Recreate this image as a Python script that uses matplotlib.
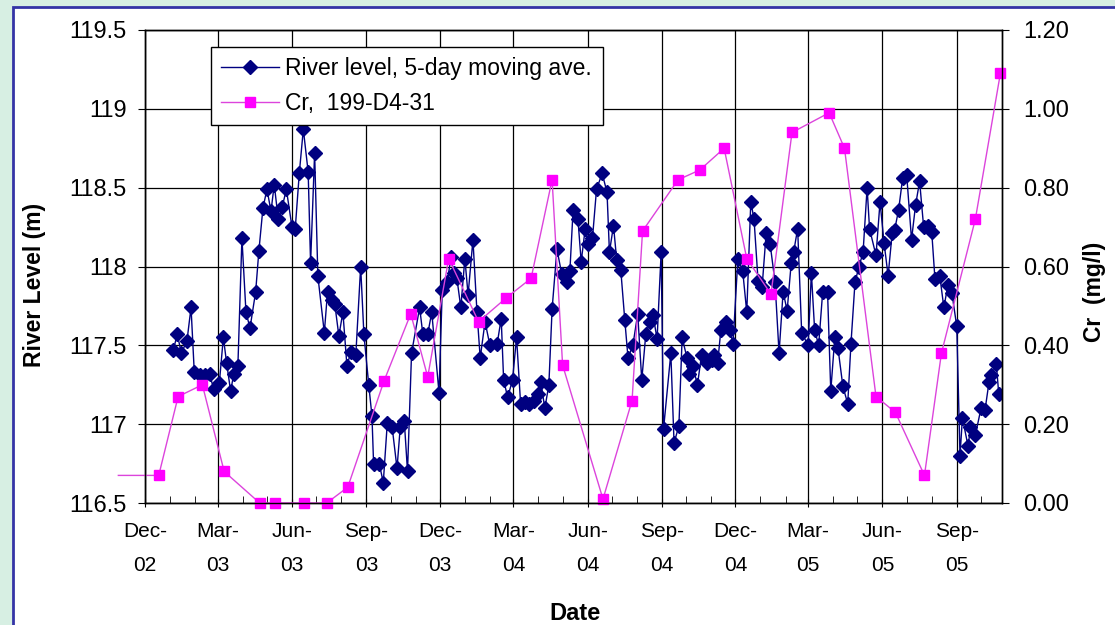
import datetime as dt
import numpy as np
import matplotlib
matplotlib.use('Agg')
import matplotlib.pyplot as plt
import matplotlib.dates as mdates
from matplotlib.patches import Rectangle
from matplotlib.lines import Line2D
from matplotlib.ticker import FormatStrFormatter, FuncFormatter

# river level: days after 1 Dec 2002, level in m
start = dt.datetime(2002, 12, 1)
level_day = [35, 40, 45, 52, 57, 61, 68, 74, 80, 85, 92, 97, 101, 106, 110, 115,
             120, 125, 130, 137, 141, 146, 151, 156, 160, 165, 170, 175, 182, 186,
             191, 196, 202, 205, 210, 214, 222, 226, 231, 235, 240, 245, 250, 255,
             261, 267, 271, 277, 281, 283, 290, 295, 300, 306, 312, 316, 321, 325,
             330, 340, 344, 350, 355, 364, 368, 374, 379, 382, 386, 391, 396, 400,
             406, 411, 415, 421, 427, 436, 441, 444, 449, 455, 460, 465, 470, 476,
             481, 486, 490, 495, 500, 504, 510, 516, 522, 526, 530, 536, 540, 545,
             549, 554, 559, 566, 572, 575, 580, 584, 589, 594, 598, 604, 610, 615,
             620, 625, 629, 634, 639, 642, 651, 655, 661, 665, 671, 673, 678, 684,
             689, 696, 702, 705, 709, 713, 719, 724, 728, 734, 740, 745, 750, 754,
             759, 764, 769, 774, 780, 785, 790, 795, 800, 803, 808, 813, 821, 825,
             829, 834, 839, 845, 849, 854, 858, 864, 870, 874, 879, 884, 889, 894,
             897, 905, 910, 915, 920, 925, 928, 933, 938, 943, 949, 954, 959, 964,
             969, 974, 978, 984, 989, 994, 999, 1005, 1009, 1012, 1019, 1022, 1028,
             1035, 1040, 1045, 1048, 1054, 1057]
level_m = [117.47, 117.57, 117.45, 117.53, 117.74, 117.33, 117.31, 117.31, 117.32, 117.22,
           117.26, 117.55, 117.39, 117.21, 117.32, 117.37, 118.18, 117.71, 117.61, 117.84,
           118.10, 118.37, 118.49, 118.35, 118.52, 118.30, 118.38, 118.49, 118.25, 118.24,
           118.59, 118.87, 118.60, 118.02, 118.72, 117.94, 117.58, 117.84, 117.79, 117.76,
           117.56, 117.71, 117.37, 117.46, 117.44, 118.00, 117.57, 117.25, 117.05, 116.75,
           116.75, 116.63, 117.01, 116.98, 116.72, 116.98, 117.02, 116.70, 117.45, 117.74,
           117.57, 117.57, 117.71, 117.20, 117.85, 117.90, 118.06, 117.96, 117.93, 117.74,
           118.05, 117.82, 118.17, 117.71, 117.42, 117.65, 117.50, 117.51, 117.67, 117.28,
           117.17, 117.28, 117.55, 117.13, 117.14, 117.13, 117.15, 117.19, 117.27, 117.10,
           117.25, 117.73, 118.11, 117.95, 117.90, 117.97, 118.36, 118.30, 118.03, 118.24,
           118.14, 118.18, 118.49, 118.59, 118.47, 118.09, 118.26, 118.04, 117.98, 117.66,
           117.42, 117.50, 117.70, 117.28, 117.57, 117.65, 117.69, 117.54, 118.09, 116.97,
           117.45, 116.88, 116.99, 117.55, 117.42, 117.32, 117.37, 117.25, 117.44, 117.39,
           117.41, 117.44, 117.39, 117.60, 117.65, 117.60, 117.51, 118.05, 117.97, 117.71,
           118.41, 118.30, 117.91, 117.87, 118.21, 118.14, 117.90, 117.45, 117.84, 117.72,
           118.02, 118.09, 118.24, 117.58, 117.50, 117.96, 117.60, 117.50, 117.84, 117.84,
           117.21, 117.55, 117.48, 117.24, 117.13, 117.51, 117.90, 118.00, 118.09, 118.50,
           118.24, 118.07, 118.41, 118.15, 117.94, 118.21, 118.23, 118.36, 118.56, 118.58,
           118.17, 118.39, 118.54, 118.25, 118.26, 118.22, 117.92, 117.94, 117.74, 117.88,
           117.83, 117.62, 116.80, 117.04, 116.86, 116.98, 116.93, 117.10, 117.09, 117.27,
           117.31, 117.38, 117.19]

# Cr, well 199-D4-31 (mg/l)
cr_date = ['2002-10-29', '2002-12-18', '2003-01-11', '2003-02-10', '2003-03-09',
           '2003-04-22', '2003-05-11', '2003-06-16', '2003-07-14', '2003-08-09',
           '2003-09-23', '2003-10-26', '2003-11-16', '2003-12-12', '2004-01-18',
           '2004-02-21', '2004-03-23', '2004-04-18', '2004-05-01', '2004-06-20',
           '2004-07-26', '2004-08-08', '2004-09-21', '2004-10-18', '2004-11-17',
           '2004-12-15', '2005-01-14', '2005-02-09', '2005-03-27', '2005-04-15',
           '2005-05-24', '2005-06-17', '2005-07-23', '2005-08-13', '2005-09-24',
           '2005-10-25']
cr_mgl = [0.07, 0.07, 0.27, 0.30, 0.08, 0.00, 0.00, 0.00, 0.00, 0.04, 0.31, 0.48,
          0.32, 0.62, 0.46, 0.52, 0.57, 0.82, 0.35, 0.01, 0.26, 0.69, 0.82, 0.845,
          0.90, 0.62, 0.53, 0.94, 0.99, 0.90, 0.27, 0.23, 0.07, 0.38, 0.72, 1.09]

level_x = [start + dt.timedelta(days=d) for d in level_day]
cr_x = [dt.datetime.strptime(d, '%Y-%m-%d') for d in cr_date]
x_end = start + dt.timedelta(days=1061)

plt.rcParams['font.family'] = ['Liberation Sans', 'DejaVu Sans']

W, H = 1115, 625
fig = plt.figure(figsize=(W / 100, H / 100), dpi=100)
fig.patch.set_facecolor('#d7efe3')
fig.patches.append(Rectangle((13 / W, -0.1), 1.2, 1 - 7 / H + 0.1, transform=fig.transFigure,
                             facecolor='white', edgecolor='#3434a6', lw=2, zorder=-1))

ax = fig.add_axes([145 / W, 1 - 503 / H, (1002 - 145) / W, (503 - 30) / H])
ax.set_facecolor('white')
navy = '#000080'
ax.plot(level_x, level_m, color=navy, lw=1, marker='D', ms=6.8, mfc=navy, mec=navy)
ax.set_ylim(116.5, 119.5)
ax.set_yticks(np.arange(116.5, 119.51, 0.5))
ax.yaxis.set_major_formatter(FuncFormatter(lambda v, p: '%g' % v))
ax.set_xlim(start, x_end)
ax.xaxis.set_major_locator(mdates.MonthLocator(bymonth=[3, 6, 9, 12]))
ax.xaxis.set_major_formatter(mdates.DateFormatter('%b-\n%y'))
ax.xaxis.set_minor_locator(mdates.MonthLocator())
ax.grid(True, which='major', color='black', lw=0.9)
ax.tick_params(axis='y', labelsize=17, length=5, direction='out', pad=8)
ax.tick_params(axis='x', which='major', labelsize=15, length=6, direction='inout', pad=11)
ax.tick_params(axis='x', which='minor', length=5, direction='in')

ax2 = ax.twinx()
pink_line = '#dc44dc'
pink = '#ff00ff'
ax2.plot(cr_x, cr_mgl, color=pink_line, lw=1, clip_on=False)
in_range = [(d, v) for d, v in zip(cr_x, cr_mgl) if d >= start]
ax2.plot([d for d, v in in_range], [v for d, v in in_range], ls='none', marker='s',
         ms=6.8, mfc=pink, mec=pink, clip_on=False)
ax2.set_ylim(0, 1.2)
ax2.set_yticks(np.arange(0, 1.21, 0.2))
ax2.yaxis.set_major_formatter(FormatStrFormatter('%.2f'))
ax2.tick_params(axis='y', labelsize=17, length=5, direction='out', pad=10)
ax2.set_xlim(start, x_end)

for a in (ax, ax2):
    for s in a.spines.values():
        s.set_color('black')
        s.set_linewidth(1)

handles = [Line2D([], [], color=navy, lw=1, marker='D', ms=6.8, mfc=navy, mec=navy),
           Line2D([], [], color=pink_line, lw=1, marker='s', ms=6.8, mfc=pink, mec=pink)]
leg = ax2.legend(handles, ['River level, 5-day moving ave.', 'Cr,  199-D4-31'],
                 loc='upper left', bbox_to_anchor=(0.077, 0.964), borderaxespad=0,
                 fontsize=16.5, fancybox=False, framealpha=1, edgecolor='black',
                 handlelength=2.5, handletextpad=0.3, borderpad=0.45, labelspacing=0.5)
leg.get_frame().set_linewidth(1)

fig.text(35 / W, 1 - 285 / H, 'River Level (m)', rotation=90, ha='center', va='center',
         fontsize=16.5, fontweight='bold')
fig.text(1095 / W, 1 - 292 / H, 'Cr  (mg/l)', rotation=90, ha='center', va='center',
         fontsize=16.5, fontweight='bold')
fig.text(575 / W, 1 - 613 / H, 'Date', ha='center', va='center', fontsize=17,
         fontweight='bold')

fig.canvas.draw()
for lbl in ax.get_xticklabels():
    lbl.set_linespacing(1.95)

fig.savefig('out.png', dpi=100, facecolor=fig.get_facecolor())
